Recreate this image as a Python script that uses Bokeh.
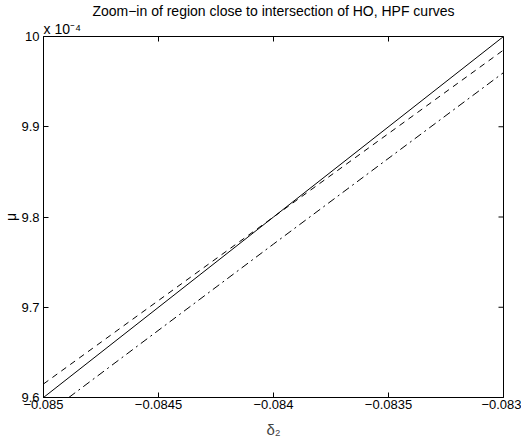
import math
from bokeh.plotting import figure
from bokeh.models import Range1d, FixedTicker, Title
from bokeh.embed import file_html
from bokeh.resources import INLINE

# ---- data (mu shown in units of 1e-4) ----
delta2_solid = [-0.085, -0.084, -0.083]
mu_solid = [9.600, 9.800, 10.000]

delta2_dashed = [-0.085, -0.084, -0.083]
mu_dashed = [9.615, 9.800, 9.985]

delta2_dashdot = [-0.08489, -0.084, -0.083]
mu_dashdot = [9.600, 9.770, 9.960]

x_ticks = [-0.085, -0.0845, -0.084, -0.0835, -0.083]
x_tick_labels = ["\u22120.085", "\u22120.0845", "\u22120.084", "\u22120.0835", "\u22120.083"]
y_ticks = [9.6, 9.7, 9.8, 9.9, 10.0]
y_tick_labels = ["9.6", "9.7", "9.8", "9.9", "10"]

x_min, x_max = -0.085, -0.083
y_min, y_max = 9.6, 10.0

title_text = "Zoom\u2212in of region close to intersection of HO, HPF curves"
exponent_text = "x 10\u207b\u2074"
FONT = "Liberation Sans"

p = figure(width=521, height=447, output_backend="svg", toolbar_location=None,
           x_range=Range1d(x_min, x_max), y_range=Range1d(y_min, y_max),
           min_border_left=43, min_border_right=18, min_border_top=33, min_border_bottom=50)
p.background_fill_color = "white"
p.border_fill_color = "white"
p.outline_line_color = "black"
p.outline_line_width = 1
p.xgrid.visible = False
p.ygrid.visible = False

p.title = Title(text=title_text, align="center", text_font=FONT, text_font_size="14px",
                text_font_style="normal", text_color="black", standoff=0, offset=0)
p.add_layout(Title(text=exponent_text, align="left", text_font=FONT, text_font_size="14px",
                   text_font_style="normal", text_color="black", standoff=0, offset=0), "above")
p.add_layout(Title(text="\u03bc", align="center", text_font=FONT, text_font_size="14px",
                   text_font_style="normal", text_color="black", standoff=0, offset=0), "left")

def style_axis(ax, ticks, labels, standoff):
    ax.ticker = FixedTicker(ticks=ticks)
    ax.major_label_overrides = {t: l for t, l in zip(ticks, labels)}
    ax.major_tick_in = 5
    ax.major_tick_out = 0
    ax.minor_tick_line_color = None
    ax.axis_line_color = "black"
    ax.major_tick_line_color = "black"
    ax.major_label_text_font = FONT
    ax.major_label_text_font_size = "13px"
    ax.major_label_text_color = "black"
    ax.major_label_standoff = standoff

style_axis(p.xaxis[0], x_ticks, x_tick_labels, 2)
style_axis(p.yaxis[0], y_ticks, y_tick_labels, 4)
p.xaxis[0].axis_label = "\u03b4\u2082"
p.xaxis[0].axis_label_text_font = FONT
p.xaxis[0].axis_label_text_font_size = "15px"
p.xaxis[0].axis_label_text_font_style = "normal"
p.xaxis[0].axis_label_standoff = 9

# box ticks on top and right edges (MATLAB style)
p.ray(x=x_ticks, y=[y_max] * len(x_ticks), length=5, length_units="screen",
      angle=-math.pi / 2, line_color="black", line_width=1)
p.ray(x=[x_max] * len(y_ticks), y=y_ticks, length=5, length_units="screen",
      angle=math.pi, line_color="black", line_width=1)

p.line(delta2_solid, mu_solid, line_color="black", line_width=1)
p.line(delta2_dashed, mu_dashed, line_color="black", line_width=1, line_dash="6 5")
p.line(delta2_dashdot, mu_dashdot, line_color="black", line_width=1, line_dash="8 4 2 4")

open("out.html", "w").write(file_html(p, INLINE))
